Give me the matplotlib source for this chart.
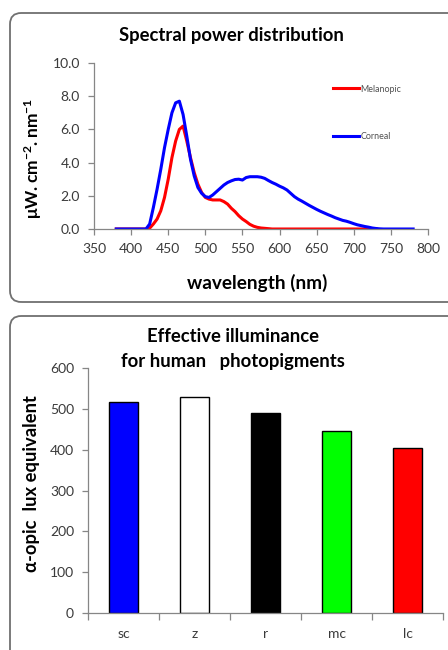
import numpy as np
import matplotlib.pyplot as plt
from matplotlib.patches import FancyBboxPatch

plt.rcParams['font.family'] = ['Lato', 'DejaVu Sans']
plt.rcParams['mathtext.fontset'] = 'custom'
plt.rcParams['mathtext.rm'] = 'Lato'
plt.rcParams['mathtext.bf'] = 'Lato:bold'

# spectral power distribution, uW/cm2/nm
wl_corneal = [380, 385, 390, 395, 400, 405, 410, 415, 420, 425, 430, 435, 440, 445,
              450, 455, 460, 465, 470, 475, 480, 485, 490, 495, 500, 505, 510, 515,
              520, 525, 530, 535, 540, 545, 550, 555, 560, 565, 570, 575, 580, 585,
              590, 595, 600, 605, 610, 615, 620, 625, 630, 635, 640, 645, 650, 655,
              660, 665, 670, 675, 680, 685, 690, 695, 700, 705, 710, 715, 720, 725,
              730, 735, 740, 745, 750, 755, 760, 765, 770, 775, 780]
corneal = [0, 0, 0, 0, 0, 0, 0, 0, 0, 0.3, 1.3, 2.4, 3.6, 4.9,
           6.0, 7.0, 7.6, 7.7, 6.9, 5.6, 4.2, 3.2, 2.5, 2.15, 1.95, 1.9, 2.05, 2.25,
           2.45, 2.65, 2.8, 2.9, 2.98, 3.0, 2.95, 3.1, 3.15, 3.15, 3.15, 3.12, 3.05, 2.92,
           2.8, 2.7, 2.58, 2.48, 2.35, 2.15, 1.95, 1.8, 1.68, 1.55, 1.42, 1.3, 1.18, 1.07,
           0.97, 0.87, 0.78, 0.68, 0.6, 0.52, 0.47, 0.4, 0.32, 0.25, 0.2, 0.15, 0.11, 0.06,
           0.03, 0.01, 0, 0, 0, 0, 0, 0, 0, 0, 0]

wl_melanopic = [380, 385, 390, 395, 400, 405, 410, 415, 420, 425, 430, 435, 440, 445,
                450, 455, 460, 465, 470, 475, 480, 485, 490, 495, 500, 505, 510, 515,
                520, 525, 530, 535, 540, 545, 550, 555, 560, 565, 570, 575, 580, 585,
                590, 600, 620, 640, 660, 680, 700, 720, 730]
melanopic = [0, 0, 0, 0, 0, 0, 0, 0, 0, 0.05, 0.3, 0.6, 1.1, 1.9,
             3.0, 4.3, 5.3, 6.0, 6.2, 5.3, 4.3, 3.4, 2.7, 2.2, 1.9, 1.8, 1.75, 1.75,
             1.75, 1.65, 1.5, 1.25, 1.05, 0.8, 0.6, 0.45, 0.28, 0.17, 0.1, 0.06, 0.04, 0.02,
             0, 0, 0, 0, 0, 0, 0, 0, 0]

# alpha-opic illuminance
photopigments = ['sc', 'z', 'r', 'mc', 'lc']
lux_equiv = [517, 529, 489, 445, 405]
bar_colors = ['#0000ff', '#ffffff', '#000000', '#00ff00', '#ff0000']

grey = '#868686'
txt = '#3a3a3a'
W, H = 448, 650

fig = plt.figure(figsize=(W / 100, H / 100), dpi=100)

# rounded frames around each chart
for (x0, y0, w, h) in [(10, 13, 460, 289), (10, 316, 460, 350)]:
    box = FancyBboxPatch((x0 / W, 1 - (y0 + h) / H), w / W, h / H,
                         boxstyle='round,pad=0,rounding_size=0.025',
                         transform=fig.transFigure, fc='none', ec='#707070', lw=1.3,
                         mutation_aspect=W / H, zorder=-1)
    fig.patches.append(box)

def style(ax):
    ax.patch.set_alpha(0)
    for s in ['top', 'right']:
        ax.spines[s].set_visible(False)
    for s in ['left', 'bottom']:
        ax.spines[s].set_color(grey)
        ax.spines[s].set_linewidth(0.9)
    ax.tick_params(colors=grey, labelcolor=txt, labelsize=10, length=4, width=0.9)
    ax.tick_params(axis='y', pad=6)

# --- spectral power distribution
ax1 = fig.add_axes([94 / W, 1 - 229 / H, 334 / W, 166 / H])
ax1.plot(wl_melanopic, melanopic, color='#ff0000', lw=2.2, label='Melanopic')
ax1.plot(wl_corneal, corneal, color='#0000ff', lw=2.2, label='Corneal')
ax1.set_xlim(350, 800)
ax1.set_ylim(0, 10)
ax1.set_xticks(np.arange(350, 801, 50))
ax1.set_yticks(np.arange(0, 10.1, 2))
ax1.set_yticklabels(['%.1f' % v for v in np.arange(0, 10.1, 2)])
style(ax1)
ax1.tick_params(axis='x', pad=6)
fig.text(231 / W, 1 - 35 / H, 'Spectral power distribution', fontsize=13.3,
         fontweight='bold', ha='center', va='center')
fig.text(257 / W, 1 - 283 / H, 'wavelength (nm)', fontsize=13.7,
         fontweight='bold', ha='center', va='center')
fig.text(33 / W, 1 - 158 / H, r'$\mathbf{\mu W.cm^{-2}.nm^{-1}}$', fontsize=12.5,
         rotation=90, ha='center', va='center')
leg = ax1.legend(loc='upper left', bbox_to_anchor=(0.716, 0.87), frameon=False,
                 fontsize=6.4, handlelength=2.9, handletextpad=0.2, labelspacing=4.3,
                 borderaxespad=0, borderpad=0)
for t in leg.get_texts():
    t.set_color('#505050')

# --- effective illuminance bars
ax2 = fig.add_axes([88 / W, 1 - 613 / H, 355 / W, 245 / H])
xpos = np.arange(len(photopigments))
ax2.bar(xpos, lux_equiv, width=0.41, color=bar_colors, edgecolor='black', lw=1.0)
ax2.set_xlim(-0.5, len(photopigments) - 0.5)
ax2.set_ylim(0, 600)
ax2.set_yticks(np.arange(0, 601, 100))
ax2.set_xticks(xpos)
ax2.set_xticklabels(photopigments)
ax2.set_xticks(np.arange(-0.5, len(photopigments), 1), minor=True)
style(ax2)
ax2.tick_params(axis='x', which='major', length=0, pad=11)
ax2.tick_params(axis='x', which='minor', length=5, color=grey, width=0.9)
fig.text(233 / W, 1 - 337 / H, 'Effective illuminance', fontsize=13.3,
         fontweight='bold', ha='center', va='center')
fig.text(233 / W, 1 - 362 / H, 'for human   photopigments', fontsize=13.3,
         fontweight='bold', ha='center', va='center')
fig.text(32 / W, 1 - 484 / H, 'α-opic  lux equivalent', fontsize=13.2,
         fontweight='bold', rotation=90, ha='center', va='center')

fig.savefig('out.png', dpi=100)
